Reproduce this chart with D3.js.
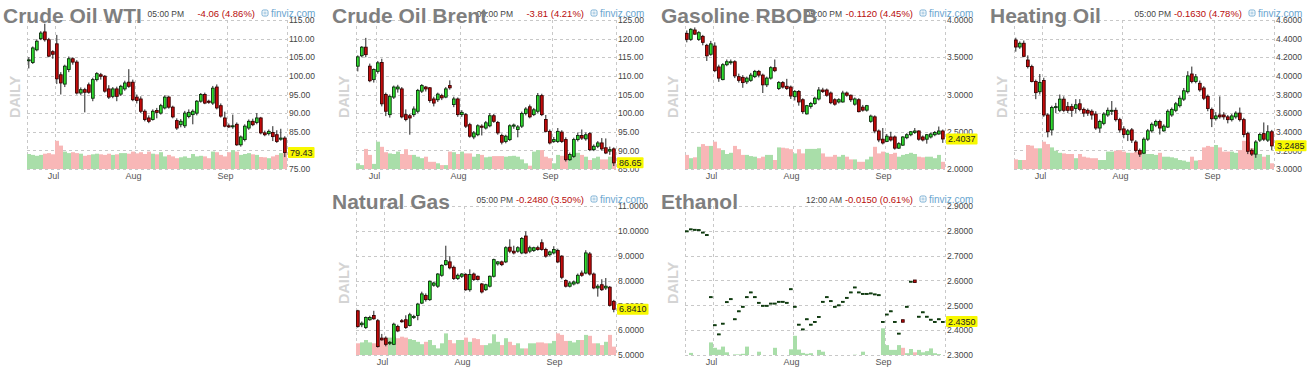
<!DOCTYPE html>
<html>
<head>
<meta charset="utf-8">
<script src="https://cdn.jsdelivr.net/npm/d3@7"></script>
<style>
    body {margin: 0; background: #fff;}
    svg {display: block; font-family: Arial, "Liberation Sans", sans-serif;}
</style>
</head>
<body>
<svg id="paper" width="1308" height="376"></svg>
<script>
// daily candles [open, high, low, close]
let wtiCandles = [
    [104.2,105.0,102.0,104.3],[103.6,107.9,103.2,107.5],[107.0,109.8,106.6,109.3],[110.0,112.0,109.6,111.5],[111.8,114.0,109.2,109.7],
    [109.7,110.2,105.0,105.3],[106.5,106.9,104.6,105.8],[108.6,111.0,97.8,99.2],[100.3,101.0,95.0,98.1],[97.8,103.0,97.0,102.6],
    [101.7,105.2,101.0,104.6],[104.6,105.0,103.0,103.7],[103.7,104.2,95.0,95.4],[95.4,96.9,94.8,96.3],[96.3,96.8,90.2,95.6],
    [97.6,98.2,95.2,95.6],[94.0,99.5,93.2,99.0],[99.0,101.0,98.5,100.6],[100.3,100.8,99.0,99.9],[99.9,100.2,95.5,95.9],
    [96.5,97.5,93.8,94.3],[94.5,97.0,94.0,96.5],[96.5,97.1,93.2,94.5],[95.1,97.6,94.6,97.2],[96.5,98.7,96.0,98.1],
    [98.3,101.8,96.8,97.2],[98.3,99.0,93.2,93.6],[94.3,95.0,92.6,93.4],[93.8,94.5,90.0,90.5],[90.5,91.0,87.8,88.3],
    [88.7,89.4,87.3,87.8],[88.3,91.0,88.0,90.5],[90.7,91.4,88.6,90.2],[90.0,92.5,89.6,92.0],[91.4,94.8,91.0,94.3],
    [94.3,94.7,91.2,91.6],[91.6,92.0,88.6,89.0],[88.0,88.6,85.5,86.0],[86.9,88.4,86.2,87.8],[86.6,90.6,86.0,90.0],
    [89.1,91.0,88.6,90.2],[89.6,91.0,87.0,90.5],[90.0,93.5,89.4,93.2],[93.2,95.4,92.8,95.0],[95.0,95.5,92.4,92.7],
    [93.2,93.6,92.5,92.9],[92.7,97.3,92.2,96.7],[97.0,97.7,91.0,91.4],[92.0,92.6,88.8,89.2],[88.7,90.4,86.2,86.5],
    [86.6,87.2,86.0,86.3],[86.4,89.6,85.8,86.6],[87.0,87.5,81.2,81.5],[81.5,84.0,81.0,83.6],[82.9,87.0,82.4,86.5],
    [86.0,88.3,85.5,87.8],[87.8,88.5,86.5,86.9],[87.5,90.0,87.0,88.7],[88.7,89.0,84.3,84.7],[84.7,85.3,83.8,84.2],
    [84.5,85.6,84.0,85.1],[84.8,86.5,82.5,83.7],[84.2,85.4,82.0,82.4],[83.0,85.8,82.6,83.3],[83.3,83.8,78.2,79.43]
];
let brentCandles = [
    [112.6,115.5,111.2,115.1],[115.4,118.0,115.0,117.7],[117.7,120.2,115.0,115.7],[112.6,113.3,108.3,108.7],[109.0,112.0,108.2,111.7],
    [111.2,114.0,110.6,113.5],[113.6,114.6,101.8,102.5],[105.0,105.5,99.2,100.5],[99.6,105.0,98.8,104.5],[104.3,107.4,103.8,107.0],
    [106.5,107.6,105.5,107.0],[106.5,107.0,98.6,99.0],[99.6,101.0,97.8,98.3],[99.3,99.8,94.2,98.7],[99.6,101.8,99.0,101.1],
    [100.5,106.5,100.0,106.1],[105.9,107.8,105.4,107.4],[107.0,107.3,105.8,106.5],[106.8,107.0,102.8,103.4],[103.8,104.4,101.8,102.7],
    [103.6,105.5,103.0,105.1],[104.7,105.2,103.5,104.1],[104.3,107.0,104.0,106.5],[107.4,108.8,106.3,106.8],[102.3,104.4,101.6,103.8],
    [103.8,104.2,99.0,99.6],[99.6,100.8,99.0,100.2],[99.6,100.0,96.0,96.5],[96.9,97.4,93.4,93.8],[93.6,95.2,93.0,94.7],
    [94.2,97.0,93.8,96.6],[96.5,97.0,94.0,96.2],[96.0,97.9,95.6,97.4],[96.6,100.0,96.2,99.3],[99.3,99.8,97.4,97.8],
    [97.5,97.9,94.2,94.7],[94.0,94.5,91.6,92.2],[92.4,94.2,91.9,93.8],[92.9,97.0,92.5,96.6],[96.5,97.2,95.8,96.8],
    [95.6,96.8,93.5,96.3],[96.5,100.4,96.0,99.9],[99.9,101.6,99.4,101.1],[101.7,102.3,98.6,99.0],[99.6,101.4,99.2,100.9],
    [100.5,105.4,100.0,104.7],[104.7,105.2,99.2,99.6],[98.3,99.5,94.8,95.1],[95.1,95.6,91.6,92.0],[92.4,93.6,92.0,92.9],
    [92.4,96.0,92.0,95.1],[94.9,95.4,92.0,92.4],[92.9,93.5,87.0,87.5],[87.5,89.4,87.2,88.9],[88.4,93.4,88.0,92.9],
    [92.9,94.8,92.4,94.0],[94.0,95.6,92.8,93.3],[93.1,94.8,92.6,94.2],[94.5,94.9,89.8,90.2],[90.2,91.6,89.8,91.1],
    [91.1,92.5,90.6,92.0],[92.0,93.3,89.9,90.4],[90.7,93.2,89.0,89.3],[89.8,91.0,88.8,90.2],[90.4,90.8,85.8,86.65]
];
let rbobCandles = [
    [3.82,3.86,3.70,3.74],[3.74,3.89,3.72,3.875],[3.866,3.90,3.80,3.81],[3.74,3.85,3.72,3.83],[3.78,3.80,3.66,3.70],
    [3.66,3.68,3.45,3.52],[3.54,3.72,3.52,3.68],[3.65,3.70,3.30,3.32],[3.37,3.40,3.17,3.22],[3.20,3.42,3.19,3.40],
    [3.40,3.47,3.38,3.44],[3.43,3.47,3.40,3.44],[3.44,3.46,3.22,3.25],[3.24,3.28,3.16,3.19],[3.23,3.26,3.09,3.16],
    [3.17,3.24,3.14,3.22],[3.19,3.29,3.17,3.26],[3.24,3.33,3.22,3.31],[3.31,3.33,3.23,3.26],[3.26,3.28,3.02,3.13],
    [3.13,3.24,3.10,3.22],[3.22,3.38,3.20,3.36],[3.36,3.47,3.30,3.32],[3.08,3.18,3.06,3.16],[3.16,3.18,3.08,3.10],
    [3.11,3.21,3.06,3.08],[3.10,3.12,2.94,2.98],[2.97,3.06,2.92,3.04],[3.04,3.06,2.85,2.90],[2.93,2.95,2.74,2.77],
    [2.74,2.86,2.73,2.85],[2.84,2.90,2.81,2.88],[2.88,2.97,2.86,2.95],[2.94,3.10,2.92,3.06],[3.06,3.09,3.02,3.04],
    [3.06,3.08,2.97,2.99],[3.02,3.04,2.87,2.89],[2.93,2.95,2.85,2.87],[2.90,2.95,2.88,2.93],[2.90,3.05,2.89,3.02],
    [3.02,3.04,2.97,2.99],[2.99,3.00,2.90,2.93],[2.87,2.96,2.85,2.94],[2.93,2.95,2.76,2.77],[2.83,2.86,2.77,2.79],
    [2.79,2.86,2.77,2.85],[2.64,2.73,2.62,2.71],[2.70,2.72,2.48,2.51],[2.51,2.53,2.36,2.39],[2.40,2.55,2.33,2.35],
    [2.37,2.47,2.36,2.44],[2.43,2.50,2.37,2.39],[2.43,2.45,2.26,2.28],[2.28,2.36,2.27,2.34],[2.32,2.44,2.31,2.43],
    [2.42,2.48,2.40,2.46],[2.46,2.51,2.44,2.50],[2.49,2.55,2.47,2.51],[2.51,2.52,2.38,2.40],[2.43,2.45,2.37,2.39],
    [2.40,2.47,2.34,2.46],[2.43,2.49,2.41,2.47],[2.46,2.51,2.44,2.49],[2.47,2.57,2.46,2.51],[2.51,2.53,2.35,2.4037]
];
let hoCandles = [
    [4.385,4.41,4.26,4.31],[4.31,4.37,4.29,4.35],[4.35,4.38,4.20,4.21],[4.17,4.22,4.08,4.10],[4.10,4.12,3.93,3.94],
    [3.94,3.96,3.75,3.82],[3.83,4.02,3.80,3.93],[3.95,3.98,3.56,3.58],[3.58,3.60,3.34,3.40],[3.42,3.68,3.36,3.66],
    [3.66,3.71,3.60,3.67],[3.63,3.80,3.61,3.75],[3.75,3.78,3.61,3.63],[3.67,3.72,3.60,3.63],[3.67,3.70,3.56,3.63],
    [3.65,3.75,3.60,3.69],[3.70,3.75,3.62,3.64],[3.64,3.66,3.56,3.60],[3.63,3.65,3.57,3.60],[3.62,3.64,3.53,3.58],
    [3.59,3.62,3.42,3.44],[3.44,3.53,3.39,3.51],[3.49,3.61,3.47,3.59],[3.58,3.66,3.56,3.63],[3.63,3.73,3.58,3.63],
    [3.63,3.66,3.51,3.53],[3.53,3.55,3.39,3.42],[3.43,3.46,3.33,3.37],[3.37,3.43,3.30,3.41],[3.42,3.44,3.28,3.31],
    [3.29,3.31,3.18,3.20],[3.20,3.22,3.13,3.16],[3.17,3.34,3.16,3.32],[3.32,3.43,3.30,3.41],[3.41,3.50,3.39,3.48],
    [3.47,3.53,3.45,3.51],[3.51,3.53,3.37,3.44],[3.41,3.48,3.40,3.46],[3.45,3.64,3.44,3.62],[3.58,3.66,3.56,3.64],
    [3.63,3.72,3.61,3.70],[3.68,3.79,3.66,3.76],[3.75,3.87,3.73,3.84],[3.83,4.05,3.81,4.00],[4.02,4.10,3.92,3.94],
    [3.94,4.02,3.92,3.99],[3.92,3.95,3.83,3.85],[3.87,3.89,3.74,3.76],[3.78,3.80,3.62,3.65],[3.64,3.66,3.45,3.54],
    [3.54,3.61,3.52,3.57],[3.58,3.78,3.54,3.56],[3.58,3.61,3.53,3.56],[3.56,3.58,3.49,3.53],[3.53,3.59,3.51,3.57],
    [3.56,3.62,3.54,3.60],[3.60,3.66,3.51,3.53],[3.53,3.55,3.34,3.37],[3.38,3.40,3.16,3.19],[3.20,3.22,3.14,3.16],
    [3.16,3.31,3.12,3.29],[3.31,3.39,3.29,3.37],[3.38,3.50,3.30,3.32],[3.31,3.47,3.29,3.40],[3.40,3.42,3.20,3.2485]
];
let ngCandles = [
    [6.78,6.82,6.10,6.15],[6.22,6.35,6.12,6.28],[6.11,6.55,6.05,6.51],[6.42,6.58,6.38,6.51],[6.59,6.78,6.42,6.46],
    [6.38,6.45,5.30,5.34],[5.68,5.85,5.58,5.61],[5.68,5.75,5.35,5.43],[5.47,5.56,5.40,5.51],[5.43,6.30,5.40,6.24],
    [6.15,6.22,5.92,5.97],[6.38,6.45,6.30,6.35],[6.42,6.60,6.05,6.11],[6.19,6.70,6.15,6.62],[6.51,6.62,6.45,6.55],
    [6.59,7.10,6.40,7.05],[7.09,7.55,7.05,7.46],[7.40,7.48,7.15,7.23],[7.23,8.00,7.18,7.97],[7.81,7.95,7.75,7.90],
    [7.77,8.30,7.70,8.26],[8.21,8.65,8.15,8.61],[8.64,9.40,8.60,8.80],[8.75,8.98,8.45,8.51],[8.53,8.60,8.02,8.08],
    [8.08,8.28,8.02,8.21],[8.17,8.30,8.10,8.26],[8.24,8.30,7.58,7.63],[7.63,8.45,7.55,8.24],[8.26,8.32,7.98,8.04],
    [8.17,8.20,8.00,8.04],[7.86,7.90,7.48,7.54],[7.63,7.87,7.58,7.83],[7.77,8.20,7.72,8.17],[8.17,8.88,8.12,8.84],
    [8.67,8.78,8.60,8.75],[8.75,8.80,8.58,8.64],[8.75,9.38,8.70,9.32],[9.34,9.66,9.10,9.18],[9.18,9.40,9.05,9.11],
    [9.18,9.38,9.12,9.32],[9.11,9.75,9.06,9.69],[9.79,9.98,9.06,9.11],[9.18,9.40,9.10,9.32],[9.21,9.36,9.15,9.32],
    [9.32,9.40,9.20,9.25],[9.52,9.66,9.20,9.25],[9.25,9.32,8.92,8.98],[9.04,9.20,8.98,9.15],[9.11,9.38,9.05,9.25],
    [9.21,9.28,8.70,8.75],[8.98,9.02,8.05,8.13],[8.00,8.05,7.72,7.77],[7.77,7.98,7.72,7.90],[7.86,8.00,7.80,7.94],
    [7.90,8.28,7.85,8.21],[8.30,8.40,8.15,8.21],[8.30,9.22,8.25,9.11],[9.07,9.15,8.20,8.26],[8.26,8.32,7.65,7.70],
    [7.70,7.85,7.35,7.77],[7.83,8.05,7.58,7.63],[7.70,8.10,7.62,7.77],[7.73,7.78,6.95,7.00],[7.16,7.22,6.72,6.841]
];
// ethanol barely trades: open and close only
let ethanolOpen = [2.797,2.805,2.803,2.802,2.792,2.782,2.532,2.419,2.382,2.425,2.512,2.524,2.443,2.475,2.493,2.532,
    2.551,2.532,2.509,2.497,2.497,2.506,2.506,2.513,2.513,2.509,2.564,2.493,2.421,2.402,2.443,2.421,2.432,2.452,2.513,2.532,
    2.516,2.493,2.499,2.513,2.529,2.551,2.571,2.551,2.545,2.545,2.547,2.543,2.540,2.432,2.462,2.475,2.432,2.385,2.442,2.493,
    2.594,2.602,2.453,2.471,2.453,2.441,2.432,2.443,2.432];
let ethanolClose = [2.800,2.808,2.806,2.805,2.795,2.785,2.535,2.422,2.385,2.428,2.515,2.527,2.446,2.478,2.496,2.535,
    2.554,2.535,2.512,2.500,2.500,2.509,2.509,2.516,2.516,2.512,2.567,2.496,2.424,2.405,2.446,2.424,2.435,2.455,2.516,2.535,
    2.519,2.496,2.502,2.516,2.532,2.554,2.574,2.554,2.548,2.548,2.550,2.546,2.543,2.435,2.465,2.478,2.435,2.388,2.432,2.496,
    2.597,2.592,2.456,2.474,2.456,2.444,2.435,2.446,2.435];

// relative volume (100 = tallest bar the strip holds)
let wtiVolume = [50,47,44,47,51,53,49,94,78,58,53,56,53,51,44,47,49,51,49,47,51,47,49,53,53,51,58,52,56,50,58,51,49,56,42,47,42,36,39,42,37,50,42,44,42,36,58,56,47,42,56,63,58,47,50,53,49,47,40,39,36,42,47,53,58];
let brentVolume = [19,13,67,47,17,91,74,56,52,50,58,50,66,47,47,41,36,41,24,24,19,13,13,58,56,50,58,52,52,41,50,47,39,41,43,43,43,41,43,44,41,32,19,11,58,63,63,41,36,19,47,44,43,41,54,54,47,41,30,36,41,32,32,41,41];
let rbobVolume = [47,36,39,74,83,77,77,91,69,63,50,54,77,66,47,47,43,41,36,41,47,47,30,72,71,69,66,52,66,52,67,67,67,69,52,41,41,47,41,47,41,32,32,24,24,32,41,74,52,58,54,50,54,41,47,50,54,50,41,39,41,41,36,47,24];
let hoVolume = [32,30,30,80,78,69,69,91,83,72,61,54,52,50,50,36,50,41,38,36,36,30,30,58,58,61,63,58,54,54,58,58,58,50,50,47,54,41,41,39,36,30,28,24,41,28,30,72,77,74,80,72,58,58,58,54,63,94,91,69,50,50,41,47,19];
let ngVolume = [39,42,50,42,39,33,53,50,58,61,56,61,58,53,50,44,36,44,50,33,22,39,72,50,39,50,50,58,44,56,53,33,33,39,69,44,33,56,44,33,39,22,22,39,39,42,42,39,39,47,72,67,47,47,42,50,50,67,64,39,39,33,44,67,28];
let ethanolVolume = [0,7,0,0,0,0,42,24,18,28,9,0,2,2,4,28,0,0,11,0,0,0,24,0,0,0,19,64,18,7,4,6,0,17,11,0,0,0,0,0,0,0,1,0,11,0,0,0,0,89,33,17,17,33,24,6,20,9,17,9,13,22,6,3,0];

// price axis ticks
let wtiTicks = [75, 80, 85, 90, 95, 100, 105, 110, 115];
let brentTicks = [85, 90, 95, 100, 105, 110, 115, 120, 125];
let rbobTicks = [2.0, 2.5, 3.0, 3.5, 4.0];
let hoTicks = [3.0, 3.2, 3.4, 3.6, 3.8, 4.0, 4.2, 4.4, 4.6];
let ngTicks = [5, 6, 7, 8, 9, 10, 11];
let ethanolTicks = [2.3, 2.4, 2.5, 2.6, 2.7, 2.8, 2.9];

// month labels and the candle index where each month starts
let monthLabels = ["Jul", "Aug", "Sep"];
let nymexMonthIdx = [7, 27, 50];
let brentMonthIdx = [5, 26, 49];

let ethanolCandles = ethanolOpen.map((o, i) => {
    let c = ethanolClose[i];
    return [o, Math.max(o, c), Math.min(o, c), c];
});

let panels = [
    {title: "Crude Oil WTI", time: "05:00 PM", change: "-4.06 (4.86%)", col: 0, row: 0,
        candles: wtiCandles, volume: wtiVolume, ticks: wtiTicks, fmt: ".2f", months: nymexMonthIdx},
    {title: "Crude Oil Brent", time: "05:00 PM", change: "-3.81 (4.21%)", col: 1, row: 0,
        candles: brentCandles, volume: brentVolume, ticks: brentTicks, fmt: ".2f", months: brentMonthIdx},
    {title: "Gasoline RBOB", time: "05:00 PM", change: "-0.1120 (4.45%)", col: 2, row: 0,
        candles: rbobCandles, volume: rbobVolume, ticks: rbobTicks, fmt: ".4f", months: nymexMonthIdx},
    {title: "Heating Oil", time: "05:00 PM", change: "-0.1630 (4.78%)", col: 3, row: 0,
        candles: hoCandles, volume: hoVolume, ticks: hoTicks, fmt: ".4f", months: nymexMonthIdx},
    {title: "Natural Gas", time: "05:00 PM", change: "-0.2480 (3.50%)", col: 1, row: 1,
        candles: ngCandles, volume: ngVolume, ticks: ngTicks, fmt: ".4f", months: nymexMonthIdx},
    {title: "Ethanol", time: "12:00 AM", change: "-0.0150 (0.61%)", col: 2, row: 1,
        candles: ethanolCandles, volume: ethanolVolume, ticks: ethanolTicks, fmt: ".4f", months: nymexMonthIdx}
];

let colX = [0, 329, 658, 987],
    rowY = [0, 186];
let plot = {left: 27, right: 287, top: 20, bottom: 169, volTop: 139};

let svg = d3.select("#paper");

panels.forEach(drawPanel);

function drawPanel(p) {
    let g = svg.append("g")
        .attr("transform", "translate(" + colX[p.col] + "," + rowY[p.row] + ")");

    let x = d3.scaleBand()
        .domain(d3.range(p.candles.length))
        .range([plot.left, plot.right]);
    let y = d3.scaleLinear()
        .domain(d3.extent(p.ticks))
        .range([plot.bottom, plot.top]);
    let v = d3.scaleLinear()
        .domain([0, 100])
        .range([plot.bottom, plot.volTop]);
    let up = i => p.candles[i][3] >= p.candles[i][0];

    // grid
    g.selectAll(".hgrid")
        .data(p.ticks)
        .enter()
        .append("line")
        .attr("x1", plot.left)
        .attr("x2", plot.right)
        .attr("y1", d => Math.round(y(d)) + 0.5)
        .attr("y2", d => Math.round(y(d)) + 0.5)
        .attr("stroke", "#c8c8c8")
        .attr("stroke-dasharray", "3,3");

    let vx = [plot.left].concat(p.months.map(i => x(i)), [plot.right]);
    g.selectAll(".vgrid")
        .data(vx)
        .enter()
        .append("line")
        .attr("x1", d => Math.round(d) + 0.5)
        .attr("x2", d => Math.round(d) + 0.5)
        .attr("y1", plot.top)
        .attr("y2", plot.bottom)
        .attr("stroke", "#c8c8c8")
        .attr("stroke-dasharray", "3,3");

    // volume strip
    g.selectAll(".vol")
        .data(p.volume)
        .enter()
        .append("rect")
        .attr("x", (d, i) => x(i))
        .attr("width", x.bandwidth())
        .attr("y", d => v(d))
        .attr("height", d => plot.bottom - v(d))
        .attr("fill", (d, i) => up(i) ? "#a9dea9" : "#f8b7b7");

    // candles
    let c = g.selectAll(".candle")
        .data(p.candles)
        .enter()
        .append("g");

    c.append("line")
        .attr("x1", (d, i) => x(i) + 1.8)
        .attr("x2", (d, i) => x(i) + 1.8)
        .attr("y1", d => y(d[1]))
        .attr("y2", d => y(d[2]))
        .attr("stroke", "#222")
        .attr("stroke-width", 1);

    c.append("rect")
        .attr("x", (d, i) => x(i) + 0.5)
        .attr("width", 2.7)
        .attr("y", d => y(Math.max(d[0], d[3])))
        .attr("height", d => Math.max(1, Math.abs(y(d[0]) - y(d[3]))))
        .attr("fill", (d, i) => up(i) ? "#2edc2e" : "#c40a0a")
        .attr("stroke", (d, i) => up(i) ? "#0c300c" : "#3a0303")
        .attr("stroke-width", 0.9);

    // price axis
    let ya = g.append("g")
        .attr("transform", "translate(" + plot.right + ",0)")
        .call(d3.axisRight(y).tickValues(p.ticks).tickFormat(d3.format(p.fmt)).tickSize(0).tickPadding(2))
        .attr("font-family", "Arial, sans-serif")
        .attr("font-size", 8.5);
    ya.select(".domain").remove();
    ya.selectAll("text").attr("fill", "#444");

    // month axis
    let xa = g.append("g")
        .attr("transform", "translate(" + (-x.bandwidth() / 2 - 1.5) + "," + plot.bottom + ")")
        .call(d3.axisBottom(x).tickValues(p.months).tickFormat((d, i) => monthLabels[i]).tickSize(0).tickPadding(4))
        .attr("font-family", "Arial, sans-serif")
        .attr("font-size", 9);
    xa.select(".domain").remove();
    xa.selectAll("text").attr("fill", "#555");

    // last price tag
    let last = p.candles[p.candles.length - 1][3];
    let tag = g.append("g")
        .attr("transform", "translate(" + (plot.right + 1) + "," + y(last) + ")");
    let tagText = tag.append("text")
        .attr("x", 2)
        .attr("dy", "0.35em")
        .attr("font-size", 9)
        .attr("fill", "#222")
        .text(d3.format(p.fmt)(last));
    let tw = tagText.node().getComputedTextLength();
    tag.insert("rect", "text")
        .attr("x", 0)
        .attr("y", -5.5)
        .attr("width", tw + 4)
        .attr("height", 11)
        .attr("rx", 1)
        .attr("fill", "#f8f800");

    // DAILY watermark
    g.append("text")
        .attr("transform", "translate(20,97) rotate(-90)")
        .attr("text-anchor", "middle")
        .attr("font-size", 14.5)
        .attr("font-weight", "bold")
        .attr("fill", "#d4d4d4")
        .text("DAILY");

    // header line
    g.append("text")
        .attr("x", 184)
        .attr("y", 17)
        .attr("text-anchor", "end")
        .attr("font-size", 8.5)
        .attr("fill", "#444")
        .text(p.time);
    g.append("text")
        .attr("x", 255)
        .attr("y", 17)
        .attr("text-anchor", "end")
        .attr("font-size", 9.5)
        .attr("fill", "#b80c0c")
        .text(p.change);

    let logo = g.append("g").attr("transform", "translate(262,10)");
    logo.append("rect")
        .attr("width", 6).attr("height", 6).attr("rx", 1.5)
        .attr("fill", "none").attr("stroke", "#6aa6cf").attr("stroke-width", 0.9);
    logo.append("path")
        .attr("d", "M1.5,2.2H4.5M1.5,3.8H4.5")
        .attr("stroke", "#6aa6cf").attr("stroke-width", 0.7);
    g.append("text")
        .attr("x", 271)
        .attr("y", 17)
        .attr("font-size", 10)
        .attr("fill", "#6aa6cf")
        .text("finviz.com");

    // title last so it sits on top of the header
    g.append("text")
        .attr("x", 3)
        .attr("y", 23)
        .attr("font-size", 21)
        .attr("font-weight", "bold")
        .attr("fill", "#7f7f7f")
        .text(p.title);
}
</script>
</body>
</html>
